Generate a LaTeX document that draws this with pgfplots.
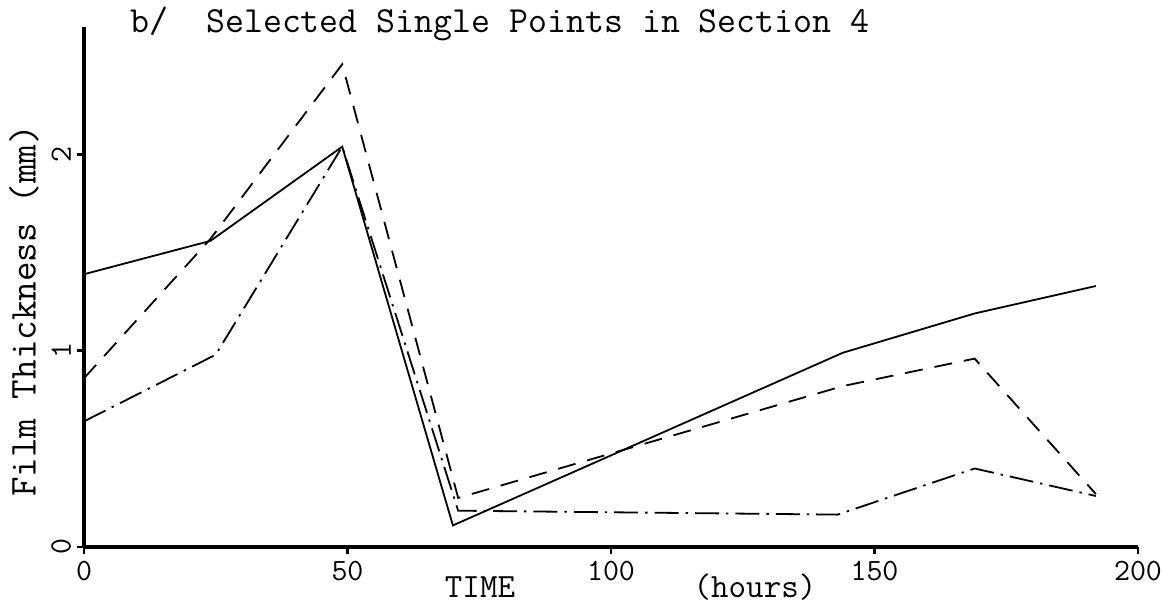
\documentclass[border=0pt]{standalone}
\usepackage{pgfplots}
\pgfplotsset{compat=1.18}
\begin{document}
\begin{tikzpicture}
\useasboundingbox (0,0) rectangle (582pt,304.5pt);
\begin{axis}[
  at={(42pt,31pt)}, anchor=south west,
  width=527pt, height=260pt, scale only axis,
  xmin=0, xmax=200, ymin=0, ymax=2.65,
  axis x line=bottom, axis y line=left,
  axis line style={-, line width=1.8pt},
  xtick={0,50,100,150,200}, xticklabels={0,50,100,150,200},
  ytick={0,1,2}, yticklabels={0,1,2},
  tick style={line width=1.4pt, black},
  tick align=outside, major tick length=3.5pt,
  xticklabel style={font=\fontsize{15.5}{16}\selectfont\ttfamily},
  yticklabel style={font=\fontsize{15.5}{16}\selectfont\ttfamily, rotate=90, anchor=south, yshift=-0.5pt},
  clip=false,
]
\addplot[black, line width=0.9pt] coordinates {
  (0,1.39) (24,1.56) (49,2.04) (70,0.11) (144,0.99) (169,1.19) (192,1.33)};
\addplot[black, line width=0.9pt, dash pattern=on 9pt off 6pt] coordinates {
  (0,0.86) (24,1.57) (49,2.46) (71,0.25) (144,0.82) (169,0.96) (192,0.27)};
\addplot[black, line width=0.9pt, dash pattern=on 12pt off 3.5pt on 1.2pt off 3.5pt] coordinates {
  (0,0.64) (25,0.98) (49,2.04) (71,0.185) (143,0.165) (169,0.40) (192,0.26)};
\end{axis}
\node[anchor=base west, inner sep=0, font=\fontsize{18.4}{20}\selectfont\ttfamily] at (65pt,288pt) {b/\ \ Selected Single Points in Section 4};
\node[rotate=90, inner sep=0, font=\fontsize{19}{20}\selectfont\ttfamily] at (12pt,149pt) {Film Thickness (mm)};
\node[inner sep=0, font=\fontsize{17}{18}\selectfont\ttfamily] at (240pt,11pt) {TIME};
\node[inner sep=0, font=\fontsize{17}{18}\selectfont\ttfamily] at (377.5pt,11pt) {(hours)};
\end{tikzpicture}
\end{document}
